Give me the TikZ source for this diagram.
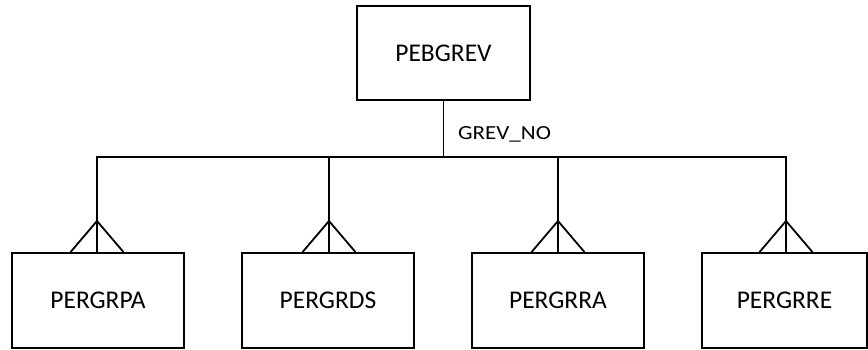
\documentclass[tikz,border=0pt]{standalone}
\usepackage{fontspec}
\setmainfont{Carlito}
\newfontfamily\keyfont[FakeStretch=1.15]{Carlito}
\begin{document}
\begin{tikzpicture}[x=1pt,y=-1pt,
  entity/.style={draw,line width=1.8pt,minimum height=95pt,inner sep=0pt,
    font=\fontsize{25.5}{28}\selectfont},
  link/.style={line width=1.8pt},
  keylabel/.style={inner sep=0pt,anchor=base west,font=\keyfont\fontsize{20}{24}\selectfont}]
\useasboundingbox (0,0) rectangle (868,350);
% parent entity and key label
\node[entity,minimum width=173pt,minimum height=94pt] (peb) at (443.5,53) {PEBGREV};
\node[keylabel] (key) at (458,140) {GREV\_NO};
% child entities
\node[entity,minimum width=172pt] (pa) at (98,300.5) {PERGRPA};
\node[entity,minimum width=172pt] (ds) at (328,300.5) {PERGRDS};
\node[entity,minimum width=172pt] (ra) at (558,300.5) {PERGRRA};
\node[entity,minimum width=165pt] (re) at (784.5,300.5) {PERGRRE};
% bus
\coordinate (b0) at (443.5,157);
\coordinate (b1) at (97,157);
\coordinate (b2) at (329,157);
\coordinate (b3) at (558,157);
\coordinate (b4) at (786,157);
\draw[link] (peb.south) -- (b0);
\draw[link,line cap=rect] (b1) -- (b4);
% drops with crow's feet
\foreach \b/\c in {b1/pa,b2/ds,b3/ra,b4/re}{
  \draw[link] (\b) -- (\b |- \c.north);
  \draw[link] ([xshift=-26.5pt]\b |- \c.north) -- ([yshift=-64pt]\b) -- ([xshift=26.5pt]\b |- \c.north);
}
\end{tikzpicture}
\end{document}
